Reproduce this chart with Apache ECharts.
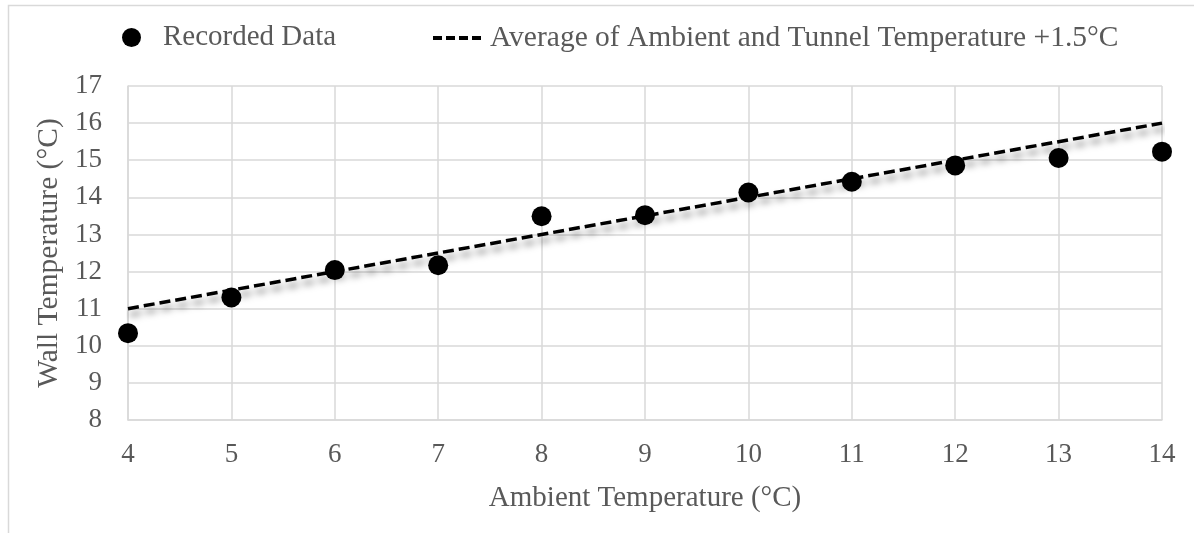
<!DOCTYPE html>
<html>
<head>
<meta charset="utf-8">
<script src="https://cdn.jsdelivr.net/npm/echarts@6/dist/echarts.min.js"></script>
<style>
  html, body { margin: 0; padding: 0; background: #fff; }
  #main { width: 1194px; height: 533px; }
</style>
</head>
<body>
<div id="main"></div>
<script>
// ambient temperature (x) and recorded wall temperature (y)
var ambient = [4, 5, 6, 7, 8, 9, 10, 11, 12, 13, 14];
var recorded = [10.34, 11.30, 12.04, 12.17, 13.49, 13.52, 14.13, 14.42, 14.86, 15.06, 15.23];
// average of ambient and tunnel temperature + 1.5
var averageLine = [11, 11.5, 12, 12.5, 13, 13.5, 14, 14.5, 15, 15.5, 16];

var seriesNames = ['Recorded Data', 'Average of Ambient and Tunnel Temperature +1.5°C'];

var font = "'Liberation Serif', 'Times New Roman', serif";
var grey = '#595959';
var gridColor = '#d9d9d9';

var chart = echarts.init(document.getElementById('main'));

var scatterData = ambient.map(function (x, i) { return [x, recorded[i]]; });
var lineData = ambient.map(function (x, i) { return [x, averageLine[i]]; });

var option = {
  backgroundColor: '#fff',
  animation: false,
  graphic: [{
    type: 'rect',
    shape: { x: 8.5, y: 5.5, width: 1300, height: 700 },
    style: { fill: 'none', stroke: gridColor, lineWidth: 1.5 },
    silent: true
  }],
  legend: [{
    data: [seriesNames[0]],
    left: 117,
    top: 18,
    itemWidth: 19,
    itemHeight: 19,
    textStyle: { fontFamily: font, fontSize: 29, color: grey, padding: [0, 0, 0, 17] }
  }, {
    data: [{ name: seriesNames[1], itemStyle: { opacity: 0 } }],
    left: 426,
    top: 18,
    itemWidth: 52,
    itemHeight: 19,
    lineStyle: { width: 4, type: [9, 4], shadowBlur: 0, shadowOffsetX: 0, shadowOffsetY: 0 },
    textStyle: { fontFamily: font, fontSize: 29.5, color: grey }
  }],
  grid: { left: 128, right: 32, top: 86, bottom: 113 },
  xAxis: {
    type: 'value',
    min: 4,
    max: 14,
    interval: 1,
    name: 'Ambient Temperature (°C)',
    nameLocation: 'middle',
    nameGap: 64,
    nameTextStyle: { fontFamily: font, fontSize: 29, color: grey },
    axisLine: { lineStyle: { color: gridColor, width: 1.5 } },
    axisTick: { show: false },
    axisLabel: { fontFamily: font, fontSize: 27, color: grey, margin: 21 },
    splitLine: { lineStyle: { color: gridColor, width: 1.5 } }
  },
  yAxis: {
    type: 'value',
    min: 8,
    max: 17,
    interval: 1,
    name: 'Wall Temperature (°C)',
    nameLocation: 'middle',
    nameGap: 60,
    nameTextStyle: { fontFamily: font, fontSize: 29.5, color: grey },
    axisLine: { show: true, lineStyle: { color: gridColor, width: 1.5 } },
    axisTick: { show: false },
    axisLabel: { fontFamily: font, fontSize: 27, color: grey, margin: 26 },
    splitLine: { lineStyle: { color: gridColor, width: 1.5 } }
  },
  series: [{
    name: seriesNames[0],
    type: 'scatter',
    data: scatterData,
    symbol: 'circle',
    symbolSize: 20,
    itemStyle: { color: '#000', opacity: 1 },
    z: 3
  }, {
    name: seriesNames[1],
    type: 'line',
    data: lineData,
    symbol: 'none',
    itemStyle: { color: '#000' },
    lineStyle: {
      color: '#000',
      width: 3.5,
      type: [11, 5],
      shadowColor: 'rgba(0,0,0,0.5)',
      shadowBlur: 7,
      shadowOffsetX: 2,
      shadowOffsetY: 6
    },
    z: 2
  }]
};

chart.setOption(option);
</script>
</body>
</html>
